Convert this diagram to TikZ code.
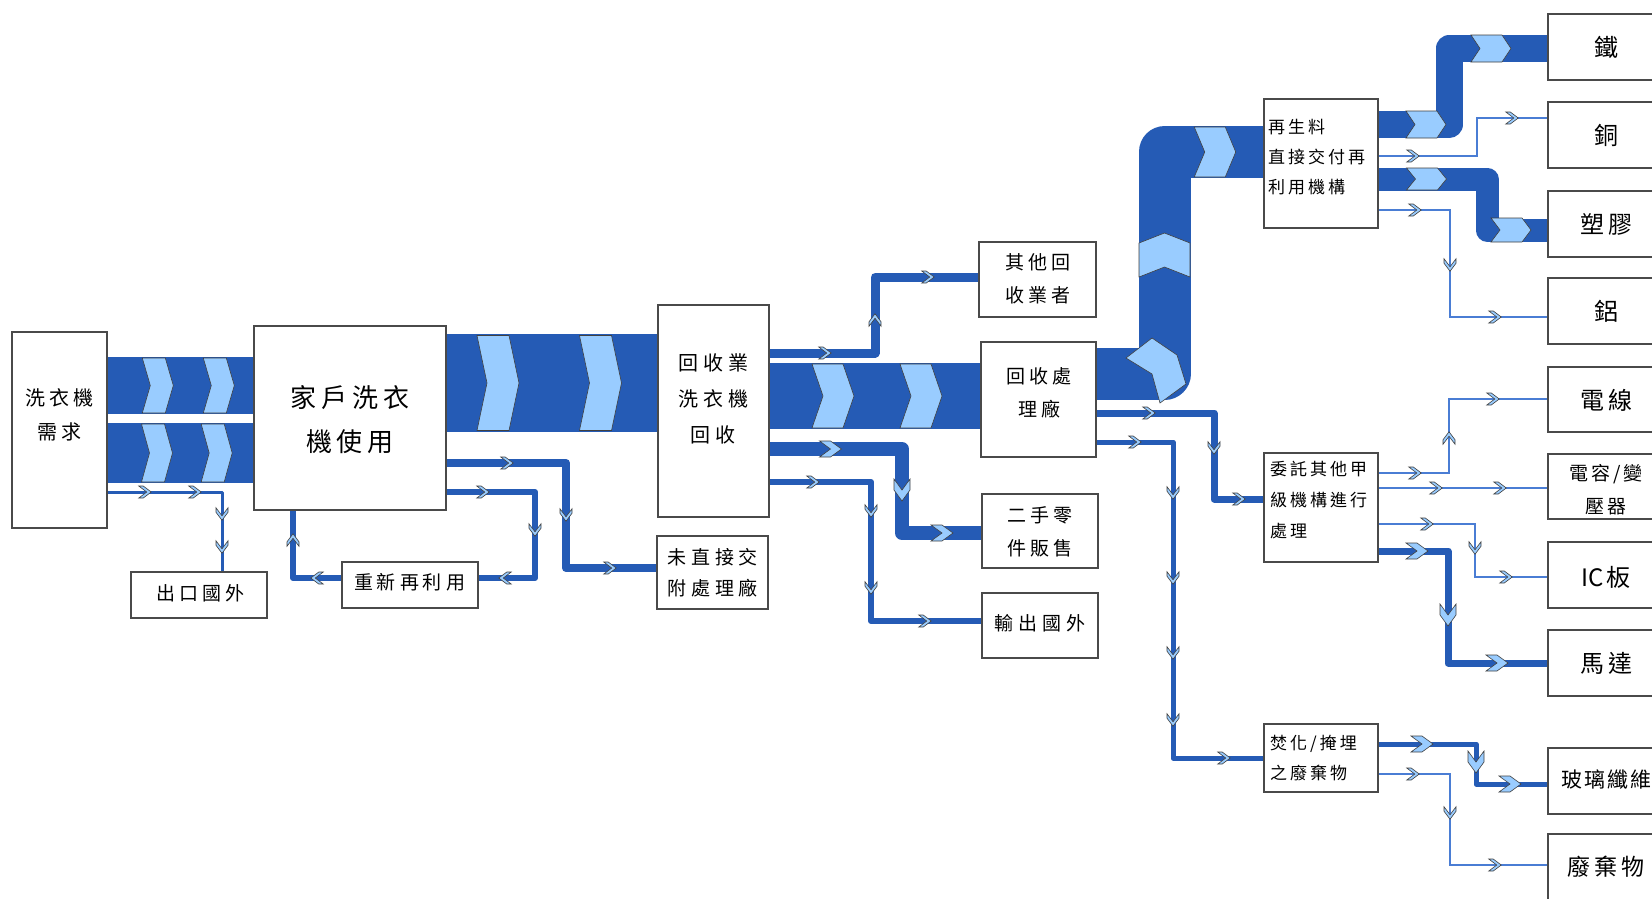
\documentclass[tikz,border=0pt]{standalone}
\usepackage{fontspec}
\newfontfamily\cjk{Noto Sans CJK TC}
\definecolor{band}{HTML}{255BB5}
\definecolor{chevfill}{HTML}{99CCFF}
\definecolor{thinblue}{HTML}{4A7DD4}
\definecolor{boxline}{HTML}{4A4A4A}
\pgfdeclarelayer{bg}
\pgfsetlayers{bg,main}
\makeatletter
\newcommand\spc[2][4pt]{\def\spc@g{#1}\@tfor\spc@c:=#2\do{\spc@c\hskip\spc@g\relax}\unskip}
\makeatother
% chevron: x y rot t d h
\newcommand\mychev[6]{%
 \begin{scope}[shift={(#1,#2)},rotate=#3]
 \filldraw[chevst] ({-(#4+#5)/2*1pt},{-#6*1pt}) -- ({(#4-#5)/2*1pt},{-#6*1pt}) -- ({(#4+#5)/2*1pt},0pt) -- ({(#4-#5)/2*1pt},{#6*1pt}) -- ({-(#4+#5)/2*1pt},{#6*1pt}) -- ({(#5-#4)/2*1pt},0pt) -- cycle;
 \end{scope}}
\newcommand\smarr[3]{\mychev{#1}{#2}{#3}{4.5}{8}{6}}
\newcommand\lgarr[3]{\mychev{#1}{#2}{#3}{11}{11}{8}}
\begin{document}
\begin{tikzpicture}[x=1pt,y=-1pt,
  box/.style={draw=boxline, line width=1.3pt, fill=white, inner sep=0pt, outer sep=0pt},
  txt/.style={inner sep=0pt, align=center, text=black},
  ltxt/.style={inner sep=0pt, align=left, anchor=west, text=black},
  bandln/.style={draw=band, line join=round},
  ln/.style={draw=band, line join=round},
  thinln/.style={draw=thinblue, line width=1.3pt},
  chevst/.style={fill=chevfill, draw=black!75, line width=0.6pt}
]
\useasboundingbox (0,0) rectangle (1652,898);
\clip (0,0) rectangle (1652,898);

% boxes
\node[box,minimum width=95pt,minimum height=196pt] (demand) at (59.5,430) {};
\node[box,minimum width=192pt,minimum height=184pt] (house) at (350,418) {};
\node[box,minimum width=136pt,minimum height=46pt] (exp1) at (199,595) {};
\node[box,minimum width=136pt,minimum height=46pt] (reuse) at (410,585) {};
\node[box,minimum width=111pt,minimum height=212pt] (coll) at (713.5,411) {};
\node[box,minimum width=111pt,minimum height=73pt] (untr) at (712.5,572.5) {};
\node[box,minimum width=117pt,minimum height=75pt] (other) at (1037.5,279.5) {};
\node[box,minimum width=115pt,minimum height=115pt] (plant) at (1038.5,399.5) {};
\node[box,minimum width=116pt,minimum height=74pt] (parts) at (1040,531) {};
\node[box,minimum width=116pt,minimum height=65pt] (exp2) at (1040,625.5) {};
\node[box,minimum width=114pt,minimum height=129pt] (direct) at (1321,163.5) {};
\node[box,minimum width=114pt,minimum height=109pt] (entr) at (1321,507.5) {};
\node[box,minimum width=114pt,minimum height=68pt] (incin) at (1321,758) {};
\node[box,minimum width=116pt,minimum height=66pt] (iron) at (1606,47) {};
\node[box,minimum width=116pt,minimum height=66pt] (copper) at (1606,135) {};
\node[box,minimum width=116pt,minimum height=66pt] (plastic) at (1606,224) {};
\node[box,minimum width=116pt,minimum height=66pt] (alum) at (1606,311) {};
\node[box,minimum width=116pt,minimum height=65pt] (wire) at (1606,399.5) {};
\node[box,minimum width=116pt,minimum height=65pt] (cap) at (1606,486.5) {};
\node[box,minimum width=116pt,minimum height=66pt] (ic) at (1606,575) {};
\node[box,minimum width=116pt,minimum height=66pt] (motor) at (1606,663) {};
\node[box,minimum width=116pt,minimum height=66pt] (glass) at (1606,781) {};
\node[box,minimum width=116pt,minimum height=66pt] (waste) at (1606,867) {};

\begin{pgfonlayer}{bg}
\fill[white] (0,0) rectangle (1652,898);
% bands
\fill[band] (demand.east |- 0,357) rectangle (house.west |- 0,414);
\fill[band] (demand.east |- 0,423) rectangle (house.west |- 0,483);
\fill[band] (house.east |- 0,334) rectangle (coll.west |- 0,432);
\fill[band] (coll.east |- 0,363) rectangle (plant.west |- 0,429);
\draw[bandln, line width=52pt] (plant.east |- 0,374) -- (1164.5,374) -- (1164.5,152) -- (direct.west |- 0,152);
\draw[bandln, line width=27pt] (direct.east |- 0,124.5) -- (1449,124.5) -- (1449,48.5) -- (iron.west |- 0,48.5);
\draw[bandln, line width=23pt] (direct.east |- 0,179) -- (1487,179) -- (1487,230) -- (plastic.west |- 0,230);
% lines
\draw[ln, line width=3pt] (demand.east |- 0,492) -| (exp1.north -| 222,0);
\draw[ln, line width=6pt] (reuse.west |- 0,578) -| (house.south -| 293,0);
\draw[ln, line width=8pt] (house.east |- 0,463) -| (566,568) -- (untr.west |- 0,568);
\draw[ln, line width=6pt] (house.east |- 0,492) -| (535,578) -- (reuse.east |- 0,578);
\draw[ln, line width=9pt] (coll.east |- 0,353) -| (875,277) -- (other.west |- 0,277);
\draw[ln, line width=14pt] (coll.east |- 0,449) -| (902,533) -- (parts.west |- 0,533);
\draw[ln, line width=6pt] (coll.east |- 0,482) -| (871,621) -- (exp2.west |- 0,621);
\draw[ln, line width=7pt] (plant.east |- 0,413) -| (1214,499) -- (entr.west |- 0,499);
\draw[ln, line width=5pt] (plant.east |- 0,442) -| (1173,758) -- (incin.west |- 0,758);
\draw[thinln] (direct.east |- 0,156) -| (1477,118) -- (copper.west |- 0,118);
\draw[thinln] (direct.east |- 0,210) -| (1450,317) -- (alum.west |- 0,317);
\draw[thinln] (entr.east |- 0,473) -| (1449,399) -- (wire.west |- 0,399);
\draw[thinln] (entr.east |- 0,488) -- (cap.west |- 0,488);
\draw[thinln] (entr.east |- 0,524) -| (1475,577) -- (ic.west |- 0,577);
\draw[ln, line width=7pt] (entr.east |- 0,551) -| (1448,663) -- (motor.west |- 0,663);
\draw[ln, line width=5pt] (incin.east |- 0,744) -| (1476,784) -- (glass.west |- 0,784);
\draw[thinln] (incin.east |- 0,774) -| (1450,865) -- (waste.west |- 0,865);
\end{pgfonlayer}

% band chevrons
\mychev{157.8}{385.5}{0}{23}{8}{27.5}
\mychev{218.8}{385.5}{0}{23}{8}{27.5}
\mychev{157}{453}{0}{23}{8}{29}
\mychev{216.7}{453}{0}{23}{8}{29}
\mychev{498}{383}{0}{32}{10}{47.5}
\mychev{600.5}{383}{0}{32}{10}{47.5}
\mychev{833}{396}{0}{31}{11}{32}
\mychev{921}{396}{0}{31}{11}{32}
\mychev{1164.5}{255}{90}{34}{10}{25.5}
\mychev{1215}{152}{0}{31}{10.5}{25}
\mychev{1426}{124.5}{0}{31}{9}{13.5}
\mychev{1491}{48.5}{0}{31}{9}{13.5}
\mychev{1426.5}{179}{0}{31}{9}{11}
\mychev{1511}{230}{0}{31}{9}{12}
\filldraw[chevst] (1126,358) -- (1152,338) -- (1177,355) -- (1186,384) -- (1160,403) -- (1152,374) -- cycle;

% small arrows
\smarr{145}{492}{0}\smarr{195}{492}{0}\smarr{222}{514}{-90}\smarr{222}{547}{-90}
\smarr{317}{578}{180}\smarr{293}{540}{90}
\smarr{507}{463}{0}\smarr{566}{515}{-90}\smarr{610}{568}{0}
\smarr{483}{492}{0}\smarr{535}{530}{-90}\smarr{505}{578}{180}
\smarr{825}{353}{0}\smarr{875}{320}{90}\smarr{928}{277}{0}
\smarr{813}{482}{0}\smarr{871}{511}{-90}\smarr{871}{588}{-90}\smarr{925}{621}{0}
\smarr{1413}{156}{0}\smarr{1512}{118}{0}
\smarr{1415}{210}{0}\smarr{1450}{265}{-90}\smarr{1495}{317}{0}
\smarr{1149}{413}{0}\smarr{1214}{448}{-90}\smarr{1239}{499}{0}
\smarr{1135}{442}{0}\smarr{1173}{493}{-90}\smarr{1173}{578}{-90}\smarr{1173}{653}{-90}\smarr{1173}{720}{-90}\smarr{1224}{758}{0}
\smarr{1415}{473}{0}\smarr{1449}{438}{90}\smarr{1493}{399}{0}
\smarr{1436}{488}{0}\smarr{1500}{488}{0}
\smarr{1427}{524}{0}\smarr{1475}{548}{-90}\smarr{1506}{577}{0}
\smarr{1413}{774}{0}\smarr{1450}{813}{-90}\smarr{1495}{865}{0}
% large arrows
\lgarr{830.5}{449}{0}\lgarr{902}{490}{-90}\lgarr{942}{533}{0}
\lgarr{1417}{551}{0}\lgarr{1448}{615}{-90}\lgarr{1497}{663}{0}
\lgarr{1422}{744}{0}\lgarr{1476}{762}{-90}\lgarr{1510}{784}{0}

% texts
\node[txt, font=\cjk\fontsize{20}{34}\selectfont] at (59.5,415) {\spc{洗衣機}\\\spc{需求}};
\node[txt, font=\cjk\fontsize{26}{44}\selectfont] at (350,420) {\spc[5pt]{家戶洗衣}\\\spc[5pt]{機使用}};
\node[txt, font=\cjk\fontsize{19}{30}\selectfont] at (200.5,593) {\spc{出口國外}};
\node[txt, font=\cjk\fontsize{19}{30}\selectfont] at (409.5,582) {\spc{重新再利用}};
\node[txt, font=\cjk\fontsize{20}{36}\selectfont] at (713,399) {\spc[5pt]{回收業}\\\spc[5pt]{洗衣機}\\\spc[5pt]{回收}};
\node[txt, font=\cjk\fontsize{19}{31}\selectfont] at (712.5,572.5) {\spc[5pt]{未直接交}\\\spc[5pt]{附處理廠}};
\node[txt, font=\cjk\fontsize{19}{32.5}\selectfont] at (1038,279) {\spc{其他回}\\\spc{收業者}};
\node[txt, font=\cjk\fontsize{19}{33}\selectfont] at (1039,392.5) {\spc{回收處}\\\spc{理廠}};
\node[txt, font=\cjk\fontsize{19}{33}\selectfont] at (1040,531.5) {\spc{二手零}\\\spc{件販售}};
\node[txt, font=\cjk\fontsize{19}{30}\selectfont] at (1040,623) {\spc[5pt]{輸出國外}};
\node[ltxt, font=\cjk\fontsize{17}{30}\selectfont] at (1268,157.5) {\spc[3pt]{再生料}\\\spc[3pt]{直接交付再}\\\spc[3pt]{利用機構}};
\node[ltxt, font=\cjk\fontsize{17}{30.8}\selectfont] at (1270,500) {\spc[3pt]{委託其他甲}\\\spc[3pt]{級機構進行}\\\spc[3pt]{處理}};
\node[ltxt, font=\cjk\fontsize{17}{30}\selectfont] at (1270,758.5) {\spc[3pt]{焚化/掩埋}\\\spc[3pt]{之廢棄物}};
\node[txt, font=\cjk\fontsize{24}{30}\selectfont] at (1606,47) {鐵};
\node[txt, font=\cjk\fontsize{24}{30}\selectfont] at (1606,135) {銅};
\node[txt, font=\cjk\fontsize{24}{30}\selectfont] at (1606,224) {\spc{塑膠}};
\node[txt, font=\cjk\fontsize{24}{30}\selectfont] at (1606,311) {鋁};
\node[txt, font=\cjk\fontsize{24}{30}\selectfont] at (1606,400) {\spc{電線}};
\node[txt, font=\cjk\fontsize{19}{33}\selectfont] at (1606,489.5) {\spc[3pt]{電容/變}\\\spc[3pt]{壓器}};
\node[txt, font=\cjk\fontsize{24}{30}\selectfont] at (1606,577) {IC\hskip3pt 板};
\node[txt, font=\cjk\fontsize{24}{30}\selectfont] at (1606,663) {\spc{馬達}};
\node[txt, font=\cjk\fontsize{21}{30}\selectfont] at (1606,780) {\spc[2pt]{玻璃纖維}};
\node[txt, font=\cjk\fontsize{23}{30}\selectfont] at (1606,867) {\spc{廢棄物}};
\end{tikzpicture}
\end{document}
